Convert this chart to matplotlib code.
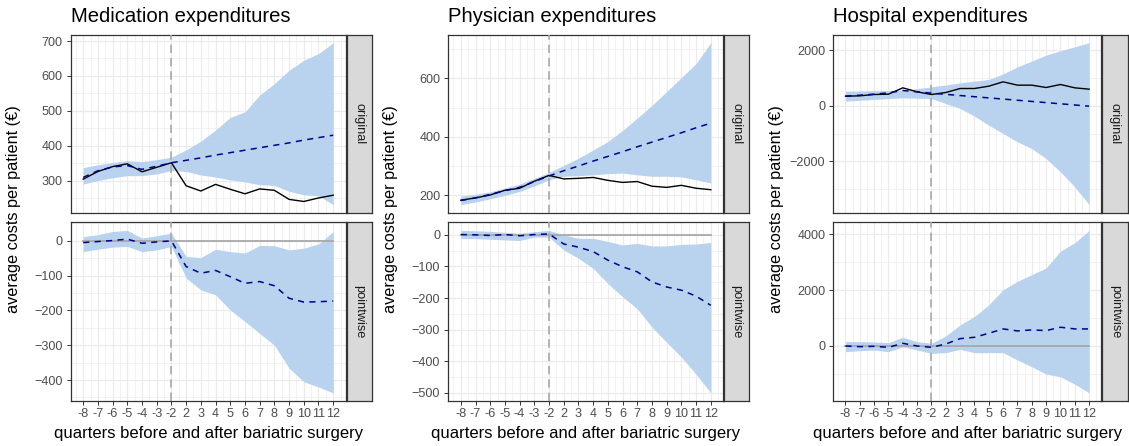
import matplotlib
matplotlib.use("Agg")
import matplotlib.pyplot as plt
from matplotlib.ticker import FixedLocator, MultipleLocator
import numpy as np

plt.rcParams["font.family"] = ["Liberation Sans", "DejaVu Sans"]

# categorie na osi x (kvartali pred in po operaciji)
kvartali = ["-8", "-7", "-6", "-5", "-4", "-3", "-2",
            "2", "3", "4", "5", "6", "7", "8", "9", "10", "11", "12"]
naslovi = ["Medication expenditures", "Physician expenditures", "Hospital expenditures"]

# zdravila
med_obs = [304, 326, 340, 348, 325, 338, 351, 285, 270, 289, 275, 262, 276, 272, 246, 240, 250, 258]
med_pred = [309, 328, 339, 343, 332, 341, 351, 358, 365, 373, 380, 387, 394, 401, 408, 416, 423, 430]
med_hi = [337, 345, 352, 357, 354, 360, 367, 388, 413, 445, 481, 497, 545, 578, 616, 645, 664, 695]
med_lo = [290, 300, 308, 314, 314, 319, 329, 326, 316, 310, 302, 296, 288, 286, 269, 259, 256, 231]
med_pw = [-5, -2, 1, 5, -7, -3, 0, -74, -93, -85, -103, -122, -117, -129, -165, -176, -175, -173]
med_pw_hi = [12, 18, 27, 30, 8, 15, 22, -45, -48, -24, -31, -35, -13, -14, -26, -21, -9, 27]
med_pw_lo = [-31, -24, -18, -16, -31, -26, -16, -107, -141, -155, -199, -232, -266, -300, -366, -405, -420, -437]

# zdravniki
fiz_obs = [183, 191, 201, 217, 224, 248, 268, 256, 258, 261, 251, 244, 247, 231, 227, 234, 224, 219]
fiz_pred = [182, 191, 203, 216, 227, 247, 266, 284, 300, 317, 333, 349, 366, 382, 398, 414, 431, 447]
fiz_hi = [197, 203, 212, 225, 238, 258, 278, 302, 327, 355, 384, 422, 464, 508, 555, 603, 651, 722]
fiz_lo = [168, 177, 188, 200, 213, 232, 253, 265, 267, 270, 274, 276, 270, 265, 265, 263, 253, 242]
fiz_pw = [1, 0, -2, 1, -3, 1, 3, -29, -39, -53, -80, -101, -117, -149, -165, -175, -194, -223]
fiz_pw_hi = [14, 13, 11, 8, 5, 10, 14, 0, -11, -11, -21, -32, -27, -35, -35, -30, -29, -24]
fiz_pw_lo = [-11, -12, -14, -16, -18, -7, -7, -48, -74, -106, -154, -196, -234, -292, -340, -387, -441, -500]

# bolnisnice
bol_obs = [348, 360, 408, 420, 648, 504, 408, 480, 624, 624, 708, 864, 744, 744, 660, 768, 648, 600]
bol_pred = [348, 384, 420, 468, 552, 504, 456, 414, 371, 329, 286, 244, 201, 159, 116, 74, 31, -12]
bol_hi = [528, 535, 545, 555, 564, 620, 684, 750, 828, 890, 948, 1150, 1404, 1610, 1824, 1980, 2124, 2268]
bol_lo = [168, 200, 230, 260, 288, 276, 264, 84, -96, -372, -696, -996, -1296, -1536, -1896, -2376, -2916, -3552]
bol_pw = [0, -24, -12, -48, 96, 0, -48, 72, 264, 312, 456, 612, 540, 576, 552, 672, 612, 612]
bol_pw_hi = [156, 156, 144, 120, 312, 156, 96, 360, 756, 1057, 1477, 2018, 2318, 2558, 2798, 3399, 3699, 4143]
bol_pw_lo = [-204, -168, -144, -204, -24, -144, -264, -240, -120, -240, -240, -240, -504, -745, -1009, -1105, -1369, -1681]

zgoraj = [(med_obs, med_pred, med_lo, med_hi), (fiz_obs, fiz_pred, fiz_lo, fiz_hi), (bol_obs, bol_pred, bol_lo, bol_hi)]
spodaj = [(med_pw, med_pw_lo, med_pw_hi), (fiz_pw, fiz_pw_lo, fiz_pw_hi), (bol_pw, bol_pw_lo, bol_pw_hi)]
y_korak = [(100, 100), (200, 100), (2000, 2000)]

W, H = 1129, 446
pas = "#B9D3EE"
obroba = "#333333"


def px(x0, y0, x1, y1):
    """Pretvori piksle v delež slike."""
    return [x0 / W, 1 - y1 / H, (x1 - x0) / W, (y1 - y0) / H]


def uredi_os(ax, korak, spodnja):
    ax.set_facecolor("white")
    ax.margins(x=0.05, y=0.05)
    ax.yaxis.set_major_locator(MultipleLocator(korak))
    ax.yaxis.set_minor_locator(MultipleLocator(korak / 2))
    ax.xaxis.set_major_locator(FixedLocator(range(len(kvartali))))
    ax.xaxis.set_minor_locator(FixedLocator(np.arange(-0.5, len(kvartali), 1)))
    ax.grid(which="major", color="#ebebeb", lw=0.9, zorder=0)
    ax.grid(which="minor", color="#ebebeb", lw=0.45, zorder=0)
    ax.set_axisbelow(True)
    for s in ax.spines.values():
        s.set_color(obroba)
        s.set_linewidth(0.9)
    ax.tick_params(which="major", length=2.8, width=0.7, color=obroba,
                   labelsize=9.1, labelcolor="#4d4d4d", pad=3.0)
    ax.tick_params(which="minor", length=0)
    if spodnja:
        ax.set_xticklabels(kvartali)
        ax.tick_params(axis="x", pad=2.0)
    else:
        ax.tick_params(axis="x", which="both", length=0, labelbottom=False)


def trak(fig, polozaj, besedilo):
    ax = fig.add_axes(polozaj)
    ax.set_facecolor("#d9d9d9")
    ax.set_xticks([])
    ax.set_yticks([])
    for s in ax.spines.values():
        s.set_color(obroba)
        s.set_linewidth(0.9)
    ax.text(0.5, 0.5, besedilo, rotation=-90, ha="center", va="center",
            fontsize=9.2, color="#1a1a1a", transform=ax.transAxes)


fig = plt.figure(figsize=(W / 100, H / 100), dpi=100)

levo = [70.7, 448.3, 833.3]
desno = [345.7, 723.3, 1101.3]
trak_desno = [371.7, 749.0, 1127.5]
oznaka_x = [14, 391, 776]

x = np.arange(len(kvartali))

for i in range(3):
    obs, pred, lo, hi = zgoraj[i]
    pw, pw_lo, pw_hi = spodaj[i]

    ax1 = fig.add_axes(px(levo[i], 34.7, desno[i], 212.7))
    ax1.fill_between(x, lo, hi, color=pas, lw=0, zorder=2)
    ax1.axvline(6, color="#a8a8a8", lw=1.2, ls=(0, (5, 3)), zorder=3)
    ax1.plot(x, obs, color="black", lw=1.0, zorder=4)
    ax1.plot(x, pred, color="#00008B", lw=1.1, ls=(0, (4, 3.5)), zorder=5)
    uredi_os(ax1, y_korak[i][0], False)
    trak(fig, px(desno[i] + 0.8, 34.7, trak_desno[i], 212.7), "original")

    ax2 = fig.add_axes(px(levo[i], 222.3, desno[i], 401))
    ax2.fill_between(x, pw_lo, pw_hi, color=pas, lw=0, zorder=2)
    ax2.plot([x[0], x[-1]], [0, 0], color="#a8a8a8", lw=1.3, zorder=3, scalex=False, scaley=False)
    ax2.axvline(6, color="#a8a8a8", lw=1.2, ls=(0, (5, 3)), zorder=3)
    ax2.plot(x, pw, color="#00008B", lw=1.1, ls=(0, (4, 3.5)), zorder=5)
    uredi_os(ax2, y_korak[i][1], True)
    trak(fig, px(desno[i] + 0.8, 222.3, trak_desno[i], 401), "pointwise")

    fig.text(levo[i] / W, 1 - 22 / H, naslovi[i], fontsize=14.6,
             ha="left", va="baseline", color="black")
    fig.text(oznaka_x[i] / W, 1 - 209 / H, "average costs per patient (€)",
             rotation=90, fontsize=11.7, ha="center", va="center")
    fig.text((levo[i] + desno[i]) / 2 / W, 1 - 438 / H,
             "quarters before and after bariatric surgery",
             fontsize=12.0, ha="center", va="baseline")

fig.savefig("out.png", dpi=100)
